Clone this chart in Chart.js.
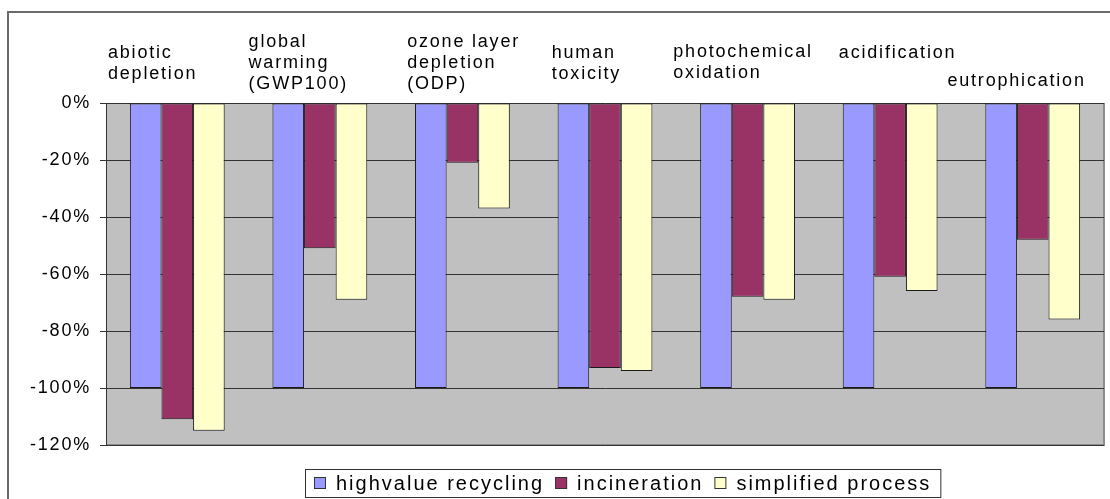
<!DOCTYPE html>
<html>
<head>
<meta charset="utf-8">
<script src="https://cdn.jsdelivr.net/npm/chart.js@4"></script>
<style>
  html, body { margin: 0; padding: 0; background: #fff; }
  #wrap { position: relative; width: 1110px; height: 499px; overflow: hidden; }
  #frame { position: absolute; left: 7px; top: 11px; width: 1200px; height: 600px;
           border-top: 2px solid #6a6a6a; border-left: 2px solid #6a6a6a; }
  canvas { position: absolute; left: 0; top: 0; }
</style>
</head>
<body>
<div id="wrap">
  <div id="frame"></div>
  <canvas id="chart" width="1110" height="499"></canvas>
</div>
<script>
// Impact categories (each entry holds the lines of its heading)
const categoryLabels = [
  ['abiotic', 'depletion'],
  ['global', 'warming', '(GWP100)'],
  ['ozone layer', 'depletion', '(ODP)'],
  ['human', 'toxicity'],
  ['photochemical', 'oxidation'],
  ['acidification'],
  ['eutrophication']
];

// Series names and values (% change)
const seriesNames = ['highvalue recycling', 'incineration', 'simplified process'];
const highvalueRecycling = [-100, -100, -100, -100, -100, -100, -100];
const incineration       = [-111, -51, -21, -93, -68, -61, -48];
const simplifiedProcess  = [-115, -69, -37, -94, -69, -66, -76];

// Value axis
const yMin = -120;
const yMax = 0;
const yStep = 20;

// Styling
const seriesColors = ['#9999FF', '#993366', '#FFFFCC'];
const FONT = '"Liberation Sans", Arial, sans-serif';
const SPACING = '1.8px';
const LEGEND_SPACING = '2px';

// Heading placement: offset from the category's left edge and centre of the first line
const headingPlacement = [
  { dx: 2,   y: 53 },
  { dx: 0,   y: 42 },
  { dx: 16,  y: 42 },
  { dx: 18,  y: 53 },
  { dx: -3,  y: 52 },
  { dx: 20,  y: 53 },
  { dx: -14, y: 81 }
];
const headingLineHeight = 21;

// Legend box placement
const legendBox = { left: 305, top: 469, height: 28, pad: 9, swatch: 12, swatchGap: 10, itemGap: 11 };

const textSpacing = {
  id: 'textSpacing',
  beforeLayout(chart) { chart.ctx.letterSpacing = SPACING; },
  beforeDraw(chart) { chart.ctx.letterSpacing = SPACING; }
};

const plotBackground = {
  id: 'plotBackground',
  beforeDraw(chart) {
    const { ctx, chartArea: a } = chart;
    ctx.save();
    ctx.fillStyle = '#C0C0C0';
    ctx.fillRect(a.left, a.top, a.right - a.left, a.bottom - a.top);
    ctx.strokeStyle = '#8c8c8c';
    ctx.lineWidth = 2;
    ctx.beginPath();
    ctx.moveTo(a.right, a.top);
    ctx.lineTo(a.right, a.bottom);
    ctx.lineTo(a.left, a.bottom);
    ctx.stroke();
    ctx.restore();
  }
};

const categoryHeadings = {
  id: 'categoryHeadings',
  afterDraw(chart) {
    const x = chart.scales.x;
    const ctx = chart.ctx;
    const step = (x.right - x.left) / categoryLabels.length;
    ctx.save();
    ctx.letterSpacing = SPACING;
    ctx.font = '18px ' + FONT;
    ctx.fillStyle = '#000';
    ctx.textAlign = 'left';
    ctx.textBaseline = 'middle';
    categoryLabels.forEach((lines, i) => {
      const left = x.getPixelForValue(i) - step / 2;
      const p = headingPlacement[i];
      lines.forEach((t, j) => ctx.fillText(t, left + p.dx, p.y + j * headingLineHeight));
    });
    ctx.restore();
  }
};

const boxedLegend = {
  id: 'boxedLegend',
  afterDraw(chart) {
    const ctx = chart.ctx;
    const L = legendBox;
    ctx.save();
    ctx.letterSpacing = LEGEND_SPACING;
    ctx.font = '20px ' + FONT;
    const items = chart.data.datasets.map(ds => ({
      text: ds.label, color: ds.backgroundColor, w: ctx.measureText(ds.label).width
    }));
    let width = L.pad * 2;
    items.forEach((it, i) => {
      width += L.swatch + L.swatchGap + it.w + (i < items.length - 1 ? L.itemGap : 0);
    });
    ctx.fillStyle = '#fff';
    ctx.fillRect(L.left, L.top, width, L.height);
    ctx.strokeStyle = '#333';
    ctx.lineWidth = 1;
    ctx.strokeRect(L.left + 0.5, L.top + 0.5, width, L.height);
    const cy = L.top + L.height / 2;
    let cx = L.left + L.pad;
    ctx.textAlign = 'left';
    ctx.textBaseline = 'middle';
    items.forEach(it => {
      ctx.fillStyle = it.color;
      ctx.fillRect(cx, cy - L.swatch / 2, L.swatch, L.swatch);
      ctx.strokeStyle = '#333';
      ctx.strokeRect(cx + 0.5, cy - L.swatch / 2 + 0.5, L.swatch - 1, L.swatch - 1);
      cx += L.swatch + L.swatchGap;
      ctx.fillStyle = '#000';
      ctx.fillText(it.text, cx, cy + 1);
      cx += it.w + L.itemGap;
    });
    ctx.restore();
  }
};

const seriesValues = [highvalueRecycling, incineration, simplifiedProcess];

new Chart(document.getElementById('chart'), {
  type: 'bar',
  data: {
    labels: categoryLabels.map(l => l.join(' ')),
    datasets: seriesNames.map((name, i) => ({
      label: name,
      data: seriesValues[i],
      backgroundColor: seriesColors[i],
      borderColor: '#1a1a1a',
      borderWidth: 1,
      borderSkipped: false
    }))
  },
  options: {
    responsive: false,
    animation: false,
    devicePixelRatio: 1,
    categoryPercentage: 0.665,
    barPercentage: 1,
    layout: { padding: { left: 0, right: 6, top: 103, bottom: 54 } },
    plugins: {
      legend: { display: false },
      tooltip: { enabled: false },
      title: { display: false }
    },
    scales: {
      x: { display: false },
      y: {
        min: yMin,
        max: yMax,
        afterFit(scale) { scale.width = 106; },
        ticks: {
          stepSize: yStep,
          padding: 9,
          color: '#000',
          font: { family: FONT, size: 18 },
          callback: v => v + '%'
        },
        grid: {
          color: '#333',
          lineWidth: 1,
          drawTicks: true,
          tickLength: 6,
          tickColor: '#333'
        },
        border: { display: true, color: '#333', width: 1 }
      }
    }
  },
  plugins: [textSpacing, plotBackground, categoryHeadings, boxedLegend]
});
</script>
</body>
</html>
